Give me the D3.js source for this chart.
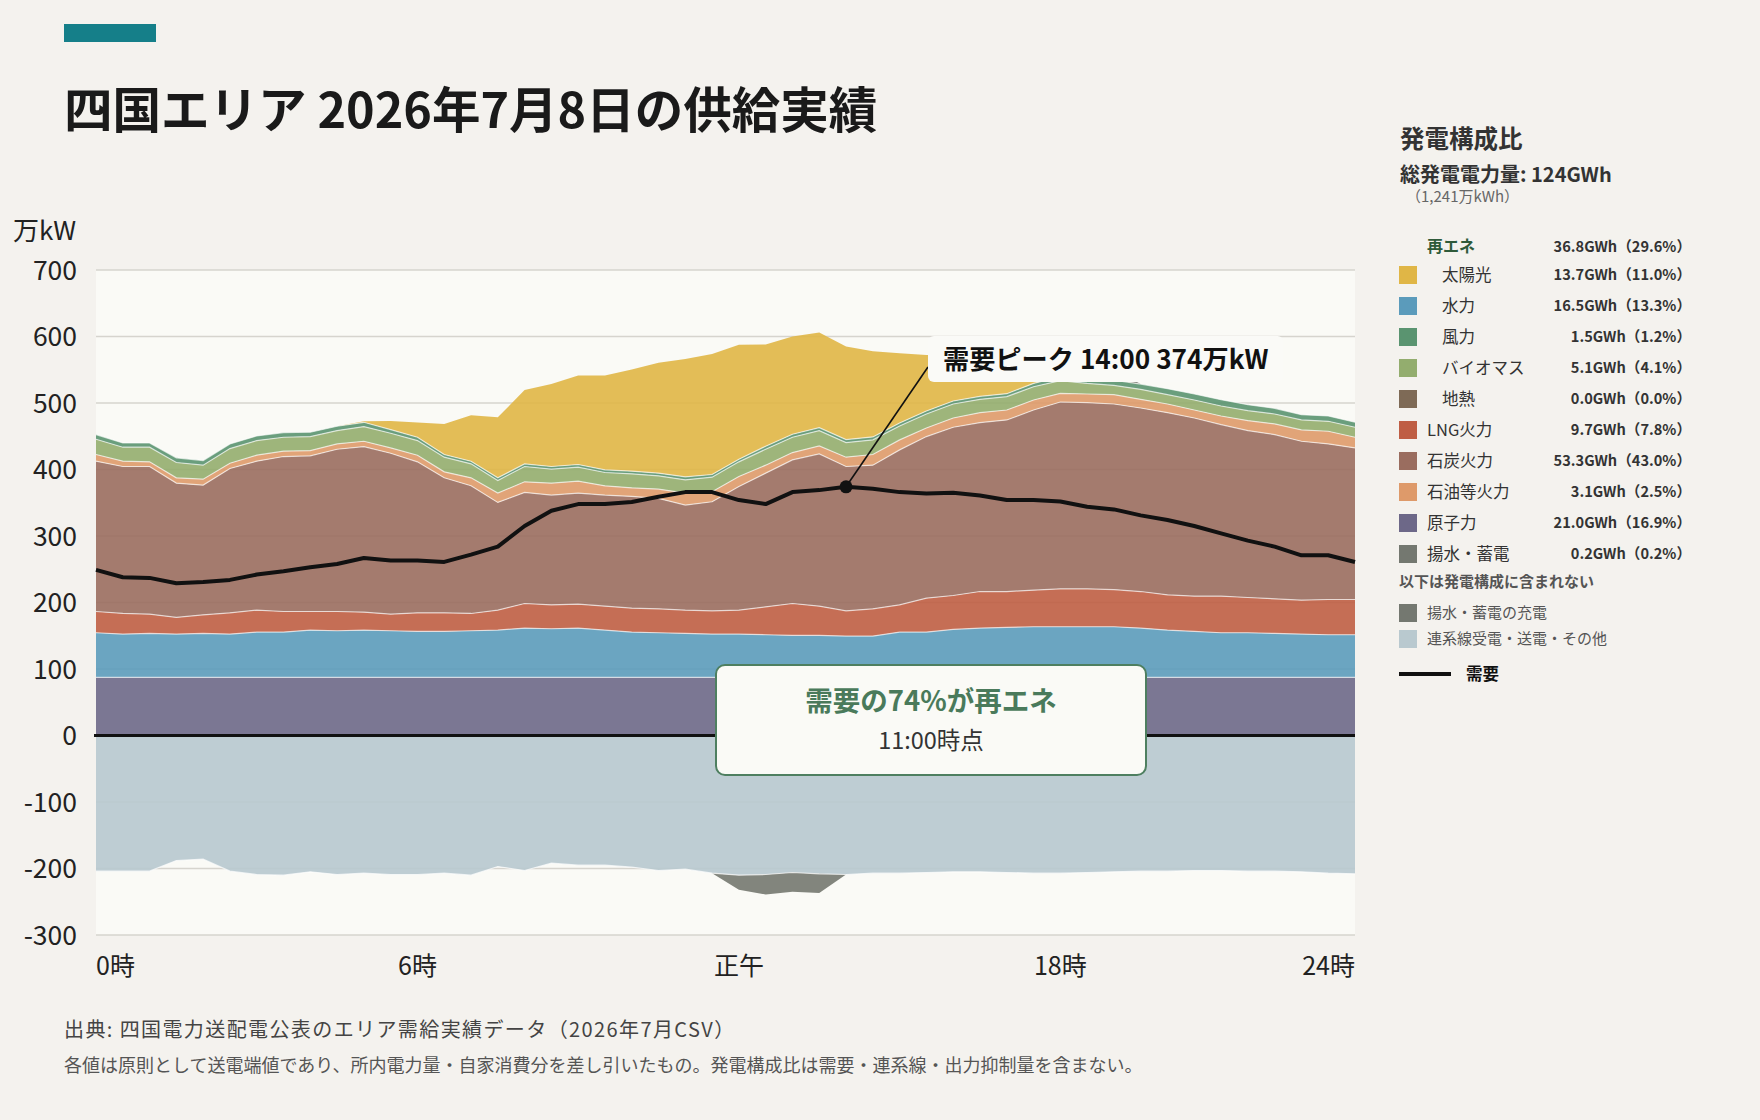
<!DOCTYPE html>
<html><head><meta charset="utf-8">
<script src="https://cdn.jsdelivr.net/npm/d3@7"></script>
<style>
body{margin:0;background:#F4F2EE;}
svg text{font-family:"Noto Sans CJK JP","Noto Sans",sans-serif;}
</style>
</head><body>
<svg id="chart" width="1760" height="1120"></svg>
<script>
// ---- data (万kW, 30-minute slots 0:00 .. 23:30) ----
const times = d3.range(48).map(i => `${Math.floor(i/2)}:${i%2 ? "30" : "00"}`);
const nuclear = [87.5,87.5,87.5,87.5,87.5,87.5,87.5,87.5,87.5,87.5,87.5,87.5,87.5,87.5,87.5,87.5,87.5,87.5,87.5,87.5,87.5,87.5,87.5,87.5,87.5,87.5,87.5,87.5,87.5,87.5,87.5,87.5,87.5,87.5,87.5,87.5,87.5,87.5,87.5,87.5,87.5,87.5,87.5,87.5,87.5,87.5,87.5,87.5];
const hydro = [67,65,66,65,66,65,68,68,71,70,71,70,69,69,70,71,74,73,74,71,68,67,66,65,65,64,63,63,62,62,68,68,72,74,75,76,76,76,76,74,71,69,67,67,66,65,64,64];
const lng = [32,31,29,25,28,32,33,31,28,29,27,25,28,28,26,30,37,36,36,36,36,36,35,35,36,42,48,44,38,41,41,51,51,55,54,55,57,57,56,55,53,53,55,53,52,51,53,53];
const coal = [226,221,222,202,195,217,224,233,234,244,249,242,227,203,192,162,167,165,167,167,168,166,158,164,186,201,216,229,217,216,233,243,253,254,258,271,281,280,279,276,274,268,258,251,247,239,234,228];
const oil = [10,8,7,8,9,8,9,8,8,8,8,8,10,9,12,14,16,18,18,14,13,14,18,15,15,12,11,12,14,16,15,13,14,15,15,15,13,13,14,13,13,12,13,15,16,17,19,16];
const geothermal = [0,0,0,0,0,0,0,0,0,0,0,0,0,0,0,0,0,0,0,0,0,0,0,0,0,0,0,0,0,0,0,0,0,0,0,0,0,0,0,0,0,0,0,0,0,0,0,0];
const biomass = [23,21,22,23,21,22,22,21,21,20,22,22,22,22,21,19,23,21,21,20,21,20,20,22,22,24,23,23,22,22,21,21,21,20,20,20,19,16,14,15,14,15,15,15,15,15,15,15];
const wind = [7,6.5,6.5,7,7,7,7,7,6.5,6.5,6.5,5.5,5,4,4,4,4,4,4,4,4,4,4.5,4,4,4.5,4.5,4.5,4.5,4.5,4.5,4.5,4.5,4.5,4.5,5,6,7,8,8,9,9,9.5,9,8.5,8,8,7.5];
const solar = [0,0,0,0,0,0,0,0,0,0,1.5,13,22,46,69,91,111,124,134,142,153,166,177,181,172,153,147,143,140,129,105,84,68,57,47,32,8,3,1,0,0,0,0,0,0,0,0,0];
const pumpGen = [0,0,0,0,0,0,0,0,0,0,0,0,0,0,0,0,0,0,0,0,0,0,0,0,0,0,0,0,0,0,0,0,0,0,0,0,12,14,14,0,0,0,0,0,0,0,0,0];
const interconnect = [-204,-204,-204,-188,-186,-204,-209,-210,-205,-209,-207,-209,-209,-207,-210,-197,-203,-192,-195,-195,-198,-203,-201,-207,-210,-209,-206,-208,-209,-207,-207,-206,-205,-205,-206,-207,-207,-206,-205,-204,-204,-203,-203,-204,-204,-205,-207,-208];
const pumpCharge = [0,0,0,0,0,0,0,0,0,0,0,0,0,0,0,0,0,0,0,0,0,0,0,0,-22,-30,-29,-29,0,0,0,0,0,0,0,0,0,0,0,0,0,0,0,0,0,0,0,0];
const demand = [249,238,237,229,231,234,242,247,253,258,267,263,263,261,272,284,315,338,348,348,351,359,366,366,354,348,366,369,374,371,366,364,365,361,354,354,352,344,340,331,324,315,304,293,284,271,271,261];

const yTickValues = [700,600,500,400,300,200,100,0,-100,-200,-300];
const xTickSlots = [0,12,24,36,47];
const xTickLabels = ["0時","6時","正午","18時","24時"];

const posKeys = ["nuclear","hydro","lng","coal","oil","geothermal","biomass","wind","solar","pumpGen"];
const negKeys = ["interconnect","pumpCharge"];
const colors = {nuclear:"#6D6888",hydro:"#5B9BBB",lng:"#BF5E44",coal:"#9A6D5F",oil:"#DE9A6A",geothermal:"#7E6A56",biomass:"#93AD6E",wind:"#5A9470",solar:"#E0B646",pumpGen:"#747870",interconnect:"#B9C9CF",pumpCharge:"#747870"};

const legendNames = ["太陽光","水力","風力","バイオマス","地熱","LNG火力","石炭火力","石油等火力","原子力","揚水・蓄電"];
const legendKeys = ["solar","hydro","wind","biomass","geothermal","lng","coal","oil","nuclear","pumpGen"];
const legendValues = ["13.7GWh（11.0%）","16.5GWh（13.3%）","1.5GWh（1.2%）","5.1GWh（4.1%）","0.0GWh（0.0%）","9.7GWh（7.8%）","53.3GWh（43.0%）","3.1GWh（2.5%）","21.0GWh（16.9%）","0.2GWh（0.2%）"];
const legendRenewable = [true,true,true,true,true,false,false,false,false,false];
const renewableTotal = "36.8GWh（29.6%）";
const totalGen = "124GWh";
const totalGenSub = "（1,241万kWh）";
const extraNames = ["揚水・蓄電の充電","連系線受電・送電・その他"];
const extraKeys = ["pumpCharge","interconnect"];
const shareText = "需要の74%が再エネ";
const shareTime = "11:00時点";

// ---- chart ----
const svg = d3.select("#chart");
const x = d3.scaleLinear().domain([0,47]).range([96,1355]);
const y = d3.scaleLinear().domain([-300,700]).range([935,270]);

svg.append("rect").attr("width",1760).attr("height",1120).attr("fill","#F4F2EE");
svg.append("rect").attr("x",64).attr("y",24).attr("width",92).attr("height",18).attr("fill","#157F89");
svg.append("text").attr("x",64).attr("y",128).attr("font-size",48.5).attr("font-weight",700).attr("fill","#1a1a1a")
  .text("四国エリア 2026年7月8日の供給実績");

// plot background & grid
svg.append("rect").attr("x",x(0)).attr("y",y(700)).attr("width",x(47)-x(0)).attr("height",y(-300)-y(700)).attr("fill","#FAFAF6");
svg.append("g").selectAll("line").data(yTickValues.filter(v=>v!==0)).join("line")
  .attr("x1",x(0)).attr("x2",x(47)).attr("y1",d=>y(d)).attr("y2",d=>y(d))
  .attr("stroke","#D6D4CE").attr("stroke-width",1.6);

const rows = times.map((t,i)=>({t,i,nuclear:nuclear[i],hydro:hydro[i],lng:lng[i],coal:coal[i],oil:oil[i],geothermal:geothermal[i],biomass:biomass[i],wind:wind[i],solar:solar[i],pumpGen:pumpGen[i],interconnect:interconnect[i],pumpCharge:pumpCharge[i]}));

const posStack = d3.stack().keys(posKeys)(rows);
const negStack = d3.stack().keys(negKeys).value((d,k)=>-d[k])(rows);

const areaPos = d3.area().x((d,i)=>x(i)).y0(d=>y(d[0])).y1(d=>y(d[1]));
const areaNeg = d3.area().x((d,i)=>x(i)).y0(d=>y(-d[0])).y1(d=>y(-d[1]));
const gA = svg.append("g");
gA.selectAll("path.pos").data(posStack).join("path").attr("class","pos")
  .attr("d",areaPos).attr("fill",d=>colors[d.key]).attr("fill-opacity",0.9);
gA.selectAll("path.neg").data(negStack).join("path").attr("class","neg")
  .attr("d",areaNeg).attr("fill",d=>colors[d.key]).attr("fill-opacity",d=>d.key==="interconnect"?0.92:0.9);

const sepKeys = ["nuclear","hydro","lng","coal","oil","biomass","wind"];
const lineTop = d3.line().x((d,i)=>x(i)).y(d=>y(d[1]));
gA.selectAll("path.sep").data(posStack.filter(s=>sepKeys.includes(s.key))).join("path").attr("class","sep")
  .attr("d",lineTop).attr("fill","none").attr("stroke","#ffffff").attr("stroke-opacity",0.65).attr("stroke-width",1.2);
const lineBot = d3.line().x((d,i)=>x(i)).y(d=>y(-d[1]));
gA.append("path").datum(negStack[0]).attr("d",lineBot).attr("fill","none").attr("stroke","#ffffff").attr("stroke-opacity",0.7).attr("stroke-width",1.2);

// zero line
svg.append("line").attr("x1",x(0)-2).attr("x2",x(47)).attr("y1",y(0)).attr("y2",y(0)).attr("stroke","#111").attr("stroke-width",3);

// demand
svg.append("path").datum(demand).attr("fill","none").attr("stroke","#111").attr("stroke-width",4)
  .attr("stroke-linejoin","round").attr("d",d3.line().x((d,i)=>x(i)).y(d=>y(d)));

// axes labels
svg.append("g").selectAll("text").data(yTickValues).join("text")
  .attr("x",77).attr("y",d=>y(d)).attr("dy","0.36em").attr("text-anchor","end")
  .attr("font-size",26.5).attr("fill","#222").text(d=>d);
svg.append("text").attr("x",13).attr("y",240).attr("font-size",26).attr("fill","#222").text("万kW");
svg.append("g").selectAll("text").data(xTickSlots).join("text")
  .attr("x",d=>x(d)).attr("y",975).attr("font-size",25).attr("fill","#222")
  .attr("text-anchor",(d,i)=>i===0?"start":(i===xTickSlots.length-1?"end":"middle"))
  .text((d,i)=>xTickLabels[i]);

// peak annotation
const peakVal = d3.max(demand), peakIdx = demand.indexOf(peakVal);
const bx = 928, by = 336;
svg.append("line").attr("x1",x(peakIdx)).attr("y1",y(peakVal)).attr("x2",bx).attr("y2",by+31)
  .attr("stroke","#111").attr("stroke-width",1.6);
svg.append("circle").attr("cx",x(peakIdx)).attr("cy",y(peakVal)).attr("r",6.5).attr("fill","#111");
const pBox = svg.append("rect").attr("x",bx).attr("y",by).attr("height",46).attr("rx",6).attr("fill","#FAFAF7");
const pTxt = svg.append("text").attr("x",bx+15).attr("y",by+33).attr("font-size",26.2).attr("font-weight",700).attr("fill","#111")
  .text(`需要ピーク ${times[peakIdx]} ${peakVal}万kW`);
pBox.attr("width",pTxt.node().getComputedTextLength()+30);

// renewable share box
svg.append("rect").attr("x",716).attr("y",665).attr("width",430).attr("height",110).attr("rx",9)
  .attr("fill","#FAFAF6").attr("stroke","#4E7F60").attr("stroke-width",2);
svg.append("text").attr("x",931).attr("y",711).attr("text-anchor","middle").attr("font-size",27.5).attr("font-weight",700).attr("fill","#4A7A5B").text(shareText);
svg.append("text").attr("x",931).attr("y",749).attr("text-anchor","middle").attr("font-size",23.5).attr("fill","#333").text(shareTime);

// ---- legend ----
const L = svg.append("g");
const vEnd = 1691;
L.append("text").attr("x",1400).attr("y",148).attr("font-size",24.5).attr("font-weight",700).attr("fill","#333").text("発電構成比");
L.append("text").attr("x",1400).attr("y",182).attr("font-size",20).attr("font-weight",700).attr("fill","#333").text("総発電電力量: "+totalGen);
L.append("text").attr("x",1406).attr("y",202).attr("font-size",15).attr("fill","#666").text(totalGenSub);
L.append("text").attr("x",1427).attr("y",252).attr("font-size",16).attr("font-weight",700).attr("fill","#2F5A3A").text("再エネ");
L.append("text").attr("x",vEnd).attr("y",252).attr("text-anchor","end").attr("font-size",14.6).attr("font-weight",700).attr("fill","#333").text(renewableTotal);
legendNames.forEach((n,i)=>{
  const cy = 275 + i*31;
  L.append("rect").attr("x",1399).attr("y",cy-9).attr("width",18).attr("height",18).attr("fill",colors[legendKeys[i]]);
  L.append("text").attr("x",legendRenewable[i]?1442:1427).attr("y",cy+6).attr("font-size",16.5).attr("fill","#333").text(n);
  L.append("text").attr("x",vEnd).attr("y",cy+5).attr("text-anchor","end").attr("font-size",14.6).attr("font-weight",700).attr("fill","#333").text(legendValues[i]);
});
L.append("text").attr("x",1399).attr("y",587).attr("font-size",15).attr("font-weight",700).attr("fill","#555").text("以下は発電構成に含まれない");
extraNames.forEach((n,i)=>{
  const cy = 613 + i*26;
  L.append("rect").attr("x",1399).attr("y",cy-9).attr("width",18).attr("height",18).attr("fill",colors[extraKeys[i]]);
  L.append("text").attr("x",1427).attr("y",cy+5).attr("font-size",15).attr("fill","#555").text(n);
});
L.append("line").attr("x1",1399).attr("x2",1451).attr("y1",674).attr("y2",674).attr("stroke","#111").attr("stroke-width",4);
L.append("text").attr("x",1466).attr("y",680).attr("font-size",16.5).attr("font-weight",700).attr("fill","#111").text("需要");

// ---- footnotes ----
svg.append("text").attr("x",64).attr("y",1037).attr("font-size",20).attr("letter-spacing",1.4).attr("fill","#444").text("出典: 四国電力送配電公表のエリア需給実績データ（2026年7月CSV）");
svg.append("text").attr("x",64).attr("y",1072).attr("font-size",18).attr("fill","#555").text("各値は原則として送電端値であり、所内電力量・自家消費分を差し引いたもの。発電構成比は需要・連系線・出力抑制量を含まない。");
</script>
</body></html>
